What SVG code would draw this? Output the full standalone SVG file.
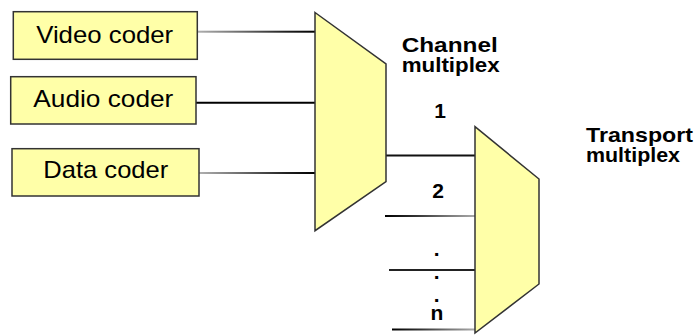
<svg xmlns="http://www.w3.org/2000/svg" width="697" height="335" viewBox="0 0 697 335">
  <style>
    .box { fill: #FFFFA8; stroke: #333333; stroke-width: 1.5; }
    .mux { fill: #FFFFA8; stroke: #333333; stroke-width: 1.5; stroke-linejoin: miter; }
    .lbl { font-family: "Liberation Sans", Arial, sans-serif; font-size: 24px; fill: #000; text-anchor: middle; }
    .hdr { font-family: "Liberation Sans", Arial, sans-serif; font-size: 21px; font-weight: bold; fill: #000; }
    .num { font-family: "Liberation Sans", Arial, sans-serif; font-size: 21px; font-weight: bold; fill: #000; text-anchor: middle; }
    .wire { fill: none; stroke-width: 2; }
  </style>
  <defs>
    <linearGradient id="gIn" x1="0" y1="0" x2="1" y2="0">
      <stop offset="0" stop-color="#b0b0b0"/>
      <stop offset="0.4" stop-color="#666666"/>
      <stop offset="0.75" stop-color="#222222"/>
      <stop offset="1" stop-color="#000000"/>
    </linearGradient>
    <linearGradient id="gOut" x1="0" y1="0" x2="1" y2="0">
      <stop offset="0" stop-color="#000000"/>
      <stop offset="0.35" stop-color="#333333"/>
      <stop offset="0.7" stop-color="#777777"/>
      <stop offset="1" stop-color="#aaaaaa"/>
    </linearGradient>
  </defs>

  <g id="connectors">
    <rect x="197" y="30.7" width="118" height="2" fill="url(#gIn)"/>
    <line class="wire" x1="196" y1="102.7" x2="315" y2="102.7" stroke="#000"/>
    <rect x="199" y="172" width="116" height="2" fill="url(#gIn)"/>
    <line class="wire" x1="386" y1="155.5" x2="475" y2="155.5" stroke="#111"/>
    <rect x="385" y="215" width="90" height="2" fill="url(#gOut)"/>
    <line class="wire" x1="389" y1="270" x2="475" y2="270" stroke="#222"/>
    <rect x="392" y="328.5" width="83" height="2" fill="url(#gOut)"/>
  </g>

  <g id="video-coder">
    <rect class="box" x="13.3" y="11.7" width="184" height="47.6"/>
    <text class="lbl" x="104.7" y="42.7" textLength="137" lengthAdjust="spacingAndGlyphs">Video coder</text>
  </g>
  <g id="audio-coder">
    <rect class="box" x="10.7" y="76.7" width="185.3" height="47.3"/>
    <text class="lbl" x="103.3" y="107.3" textLength="140" lengthAdjust="spacingAndGlyphs">Audio coder</text>
  </g>
  <g id="data-coder">
    <rect class="box" x="12" y="148.7" width="187" height="47.3"/>
    <text class="lbl" x="105.8" y="178.3" textLength="125" lengthAdjust="spacingAndGlyphs">Data coder</text>
  </g>

  <g id="channel-multiplex">
    <polygon class="mux" points="315,12.5 386,64 386,181.7 315,230.7"/>
    <text class="hdr" x="401.7" y="52.3" textLength="96" lengthAdjust="spacingAndGlyphs">Channel</text>
    <text class="hdr" x="401.7" y="71.7" textLength="98" lengthAdjust="spacingAndGlyphs">multiplex</text>
  </g>

  <g id="transport-multiplex">
    <polygon class="mux" points="475,126.7 539,179 539,284 475,333"/>
    <text class="hdr" x="586" y="142.3" textLength="107" lengthAdjust="spacingAndGlyphs">Transport</text>
    <text class="hdr" x="586" y="161.7" textLength="94" lengthAdjust="spacingAndGlyphs">multiplex</text>
  </g>

  <g id="channel-labels">
    <text class="num" x="440" y="118">1</text>
    <text class="num" x="438" y="197.7">2</text>
    <text class="num" x="436.7" y="256">.</text>
    <text class="num" x="436.7" y="279.3">.</text>
    <text class="num" x="436.7" y="302">.</text>
    <text class="num" x="437" y="320">n</text>
  </g>
</svg>
